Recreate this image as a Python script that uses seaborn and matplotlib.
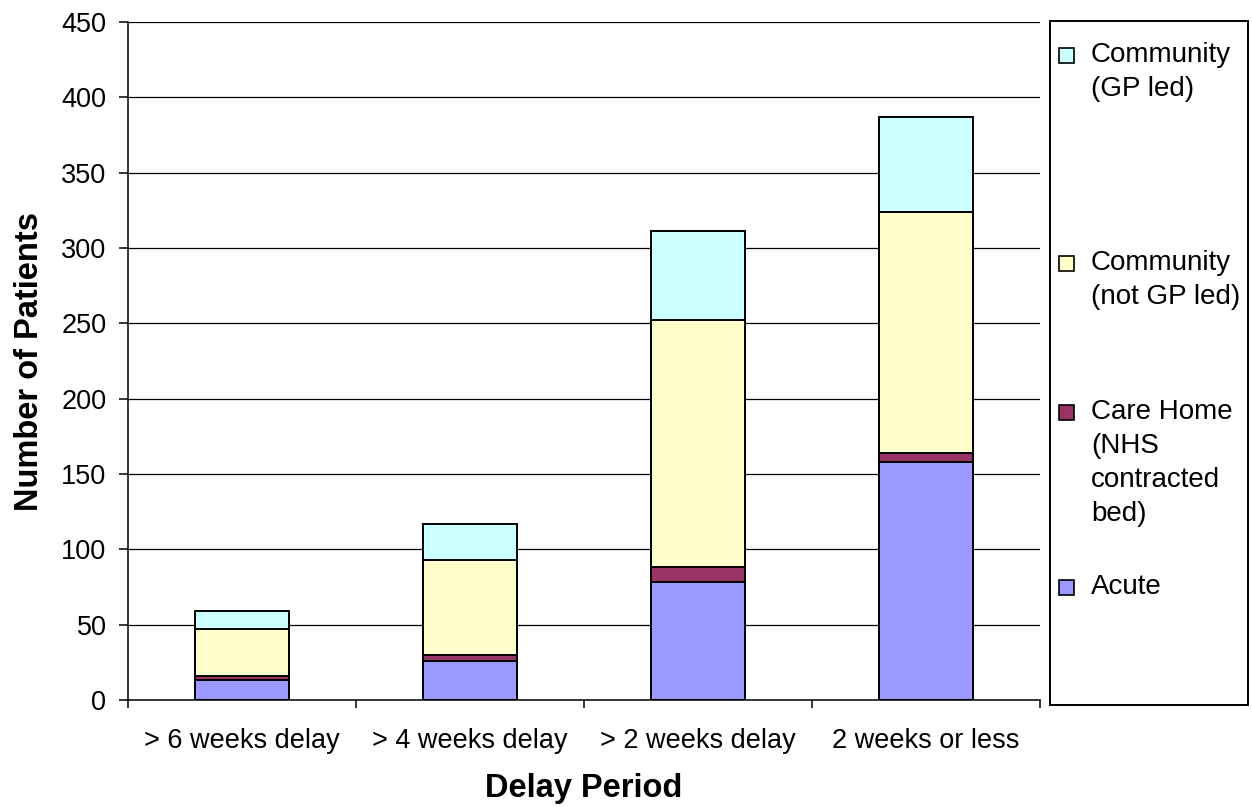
import matplotlib
matplotlib.use("Agg")
import matplotlib.pyplot as plt
import seaborn as sns
import pandas as pd
import numpy as np
from matplotlib.patches import Rectangle

categories = ["> 6 weeks delay", "> 4 weeks delay", "> 2 weeks delay", "2 weeks or less"]
acute = [13, 26, 78, 158]
care_home = [3, 4, 10, 6]
community_not_gp = [31, 63, 164, 160]
community_gp = [12, 24, 59, 63]

series_names = ["Acute", "Care Home (NHS contracted bed)", "Community (not GP led)", "Community (GP led)"]
series_values = [acute, care_home, community_not_gp, community_gp]
series_colors = ["#9999FF", "#993366", "#FFFFCC", "#CCFFFF"]
legend_labels = [["Community", "(GP led)"], ["Community", "(not GP led)"],
                 ["Care Home", "(NHS", "contracted", "bed)"], ["Acute"]]
legend_colors = ["#CCFFFF", "#FFFFCC", "#993366", "#9999FF"]
yticks = list(range(0, 451, 50))

sns.set_theme(style="white")
plt.rcParams['font.family'] = ['Liberation Sans', 'DejaVu Sans']
plt.rcParams['text.color'] = 'black'
plt.rcParams['axes.labelcolor'] = 'black'
plt.rcParams['xtick.color'] = 'black'
plt.rcParams['ytick.color'] = 'black'

W, H = 1252, 807
fig = plt.figure(figsize=(W / 100, H / 100), dpi=100)
ax = fig.add_axes([128 / W, 1 - 700 / H, (1040 - 128) / W, 678 / H])

cum = np.cumsum(np.array(series_values), axis=0)
# draw from top layer down so lower layers overlay
for i in range(len(series_names) - 1, -1, -1):
    df = pd.DataFrame({"cat": categories, "val": cum[i]})
    sns.barplot(data=df, x="cat", y="val", order=categories, color=series_colors[i],
                saturation=1, width=0.41, edgecolor="black", linewidth=1.4, ax=ax, zorder=3)

ax.set_ylim(0, 450)
ax.set_xlim(-0.5, len(categories) - 0.5)
ax.set_yticks(yticks)
ax.yaxis.grid(True, color="black", linewidth=0.9, zorder=0)
ax.set_axisbelow(True)
for s in ["top", "right"]:
    ax.spines[s].set_visible(False)
for s in ["left", "bottom"]:
    ax.spines[s].set_color("black")
    ax.spines[s].set_linewidth(1.1)

ax.tick_params(axis="y", which="major", direction="out", length=6.5, width=1.1,
               labelsize=19.5, left=True, pad=9)
ax.tick_params(axis="x", which="major", length=0, labelsize=19.5, pad=20)
ax.set_xticks(np.arange(-0.5, len(categories), 1.0), minor=True)
ax.tick_params(axis="x", which="minor", direction="out", length=6, width=1.1, bottom=True)

ax.set_xlabel("Delay Period", fontsize=23.5, fontweight="bold", labelpad=14)
ax.set_ylabel("Number of Patients", fontsize=23.5, fontweight="bold", labelpad=12)

# legend (manual, matching the reference layout)
def fx(px):
    return px / W
def fy(py):
    return 1 - py / H

fig.patches.append(Rectangle((fx(1050), fy(705)), fx(1248) - fx(1050), fy(21) - fy(705),
                             transform=fig.transFigure, facecolor="white", edgecolor="black",
                             linewidth=1.4, zorder=1))
legend_first_line_y = [55, 263, 412, 587]
line_step = 34
sq = 15
for lines, yy, col in zip(legend_labels, legend_first_line_y, legend_colors):
    fig.patches.append(Rectangle((fx(1059), fy(yy + sq / 2)), fx(sq), sq / H,
                                 transform=fig.transFigure, facecolor=col, edgecolor="black",
                                 linewidth=1.2, zorder=2))
    for k, line in enumerate(lines):
        fig.text(fx(1091), fy(yy + k * line_step), line, fontsize=20, va="center",
                 ha="left", zorder=3)

fig.savefig("out.png", dpi=100)
